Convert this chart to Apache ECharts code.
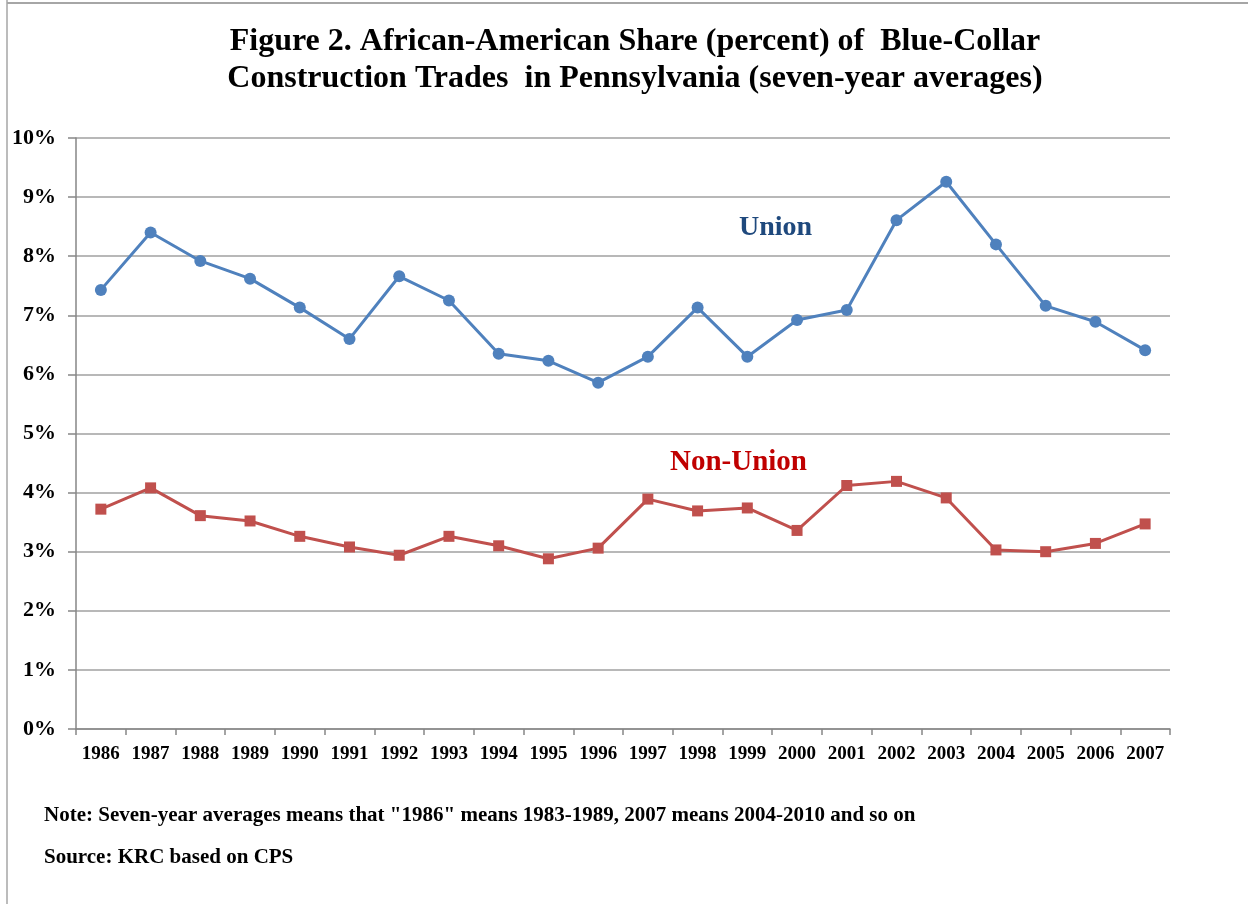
<!DOCTYPE html>
<html>
<head>
<meta charset="utf-8">
<script src="https://cdn.jsdelivr.net/npm/echarts@6/dist/echarts.min.js"></script>
<style>
html,body{margin:0;padding:0;background:#fff;}
#chart{width:1248px;height:904px;}
</style>
</head>
<body>
<div id="chart"></div>
<script>
const years = ['1986','1987','1988','1989','1990','1991','1992','1993','1994','1995','1996','1997','1998','1999','2000','2001','2002','2003','2004','2005','2006','2007'];
const union = [7.43,8.40,7.92,7.62,7.13,6.60,7.66,7.25,6.35,6.23,5.86,6.30,7.13,6.30,6.92,7.09,8.61,9.26,8.20,7.16,6.89,6.41];
const nonUnion = [3.72,4.08,3.61,3.52,3.26,3.08,2.94,3.26,3.10,2.88,3.06,3.89,3.69,3.74,3.36,4.12,4.19,3.91,3.03,3.00,3.14,3.47];
const yTicks = [0,1,2,3,4,5,6,7,8,9,10];

const titleText = 'Figure 2. African-American Share (percent) of  Blue-Collar\nConstruction Trades  in Pennsylvania (seven-year averages)';
const noteText = 'Note: Seven-year averages means that "1986" means 1983-1989, 2007 means 2004-2010 and so on';
const sourceText = 'Source: KRC based on CPS';

const SERIF = '"Liberation Serif", "DejaVu Serif", serif';
const chart = echarts.init(document.getElementById('chart'));
chart.setOption({
  backgroundColor: '#fff',
  animation: false,
  title: {
    text: titleText,
    left: 630, textAlign: 'center', top: 18,
    textStyle: { fontFamily: SERIF, fontWeight: 'bold', fontSize: 32, lineHeight: 37, color: '#000' }
  },
  grid: { left: 76, right: 78, top: 138, bottom: 175 },
  xAxis: {
    type: 'category', data: years, boundaryGap: true,
    axisLine: { lineStyle: { color: '#868686', width: 1.5 } },
    axisTick: { show: true, interval: 0, length: 6, lineStyle: { color: '#868686', width: 1.5 } },
    axisLabel: { interval: 0, margin: 16, fontFamily: SERIF, fontWeight: 'bold', fontSize: 19, color: '#000' }
  },
  yAxis: {
    type: 'value', min: yTicks[0], max: yTicks[yTicks.length-1], interval: 1,
    axisLine: { show: true, lineStyle: { color: '#868686', width: 1.5 } },
    axisTick: { show: true, length: 8, lineStyle: { color: '#868686', width: 1.5 } },
    axisLabel: { formatter: '{value}%', margin: 20, fontFamily: SERIF, fontWeight: 'bold', fontSize: 22, color: '#000' },
    splitLine: { lineStyle: { color: '#a0a0a0', width: 1.5 } }
  },
  series: [
    { name: 'Union', type: 'line', data: union, symbol: 'circle', symbolSize: 12,
      itemStyle: { color: '#4F81BD' }, lineStyle: { color: '#4F81BD', width: 3 } },
    { name: 'Non-Union', type: 'line', data: nonUnion, symbol: 'rect', symbolSize: 11,
      itemStyle: { color: '#C0504D' }, lineStyle: { color: '#C0504D', width: 3 } }
  ],
  graphic: [
    { type: 'line', shape: { x1: 7, y1: 0, x2: 7, y2: 904 }, style: { stroke: '#a6a6a6', lineWidth: 1.5 } },
    { type: 'line', shape: { x1: 7, y1: 3, x2: 1248, y2: 3 }, style: { stroke: '#a6a6a6', lineWidth: 2 } },
    { type: 'text', left: 739, top: 214, style: { text: 'Union', fontFamily: SERIF, fontWeight: 'bold', fontSize: 28, fill: '#1F497D' } },
    { type: 'text', left: 670, top: 448, style: { text: 'Non-Union', fontFamily: SERIF, fontWeight: 'bold', fontSize: 29, fill: '#C00000' } },
    { type: 'text', left: 44, top: 805, style: { text: noteText, fontFamily: SERIF, fontWeight: 'bold', fontSize: 21, fill: '#000' } },
    { type: 'text', left: 44, top: 847, style: { text: sourceText, fontFamily: SERIF, fontWeight: 'bold', fontSize: 21, fill: '#000' } }
  ]
});
</script>
</body>
</html>
